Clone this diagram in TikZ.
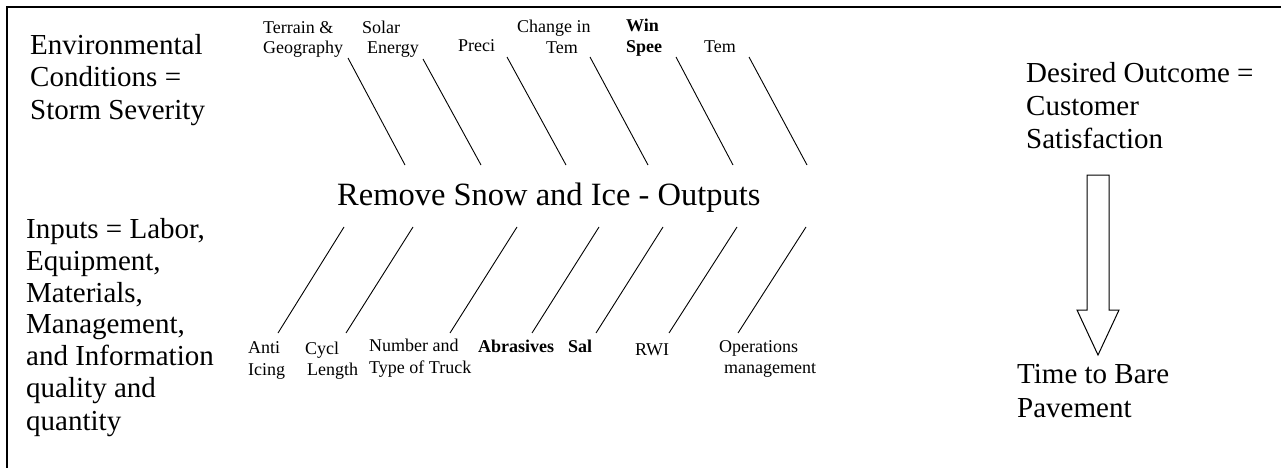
\documentclass[tikz,border=0pt]{standalone}
\usepackage{fontspec}
\setmainfont{Liberation Serif}
\begin{document}
\begin{tikzpicture}[x=1pt,y=-1pt,
  big/.style={anchor=base west, inner sep=0pt, font=\fontsize{29}{32}\selectfont},
  title/.style={anchor=base west, inner sep=0pt, font=\fontsize{32.5}{36}\selectfont},
  small/.style={anchor=base west, inner sep=0pt, font=\fontsize{18}{20}\selectfont},
  smallb/.style={anchor=base west, inner sep=0pt, font=\fontsize{18}{20}\selectfont\bfseries},
  bone/.style={line width=0.9pt},
  frame/.style={line width=2pt},
  outarrow/.style={line width=1pt, fill=white}]
\useasboundingbox (0,0) rectangle (1281,468);
% frame
\coordinate (fbl) at (7,468);
\coordinate (ftl) at (7,7);
\coordinate (ftr) at (1281,7);
\draw[frame] (fbl) -- (ftl) -- (ftr);
% left texts
\node[big] (env1) at (30,55) {Environmental};
\node[big] (env2) at (30,87) {Conditions =};
\node[big] (env3) at (30,120) {Storm Severity};
\node[big] (inp1) at (26,238) {Inputs = Labor,};
\node[big] (inp2) at (26,270) {Equipment,};
\node[big] (inp3) at (26,302) {Materials,};
\node[big] (inp4) at (26,333) {Management,};
\node[big] (inp5) at (26,365) {and Information};
\node[big] (inp6) at (26,397) {quality and};
\node[big] (inp7) at (26,430) {quantity};
% right texts
\node[big] (des1) at (1026,83) {Desired Outcome =};
\node[big] (des2) at (1026,116) {Customer};
\node[big] (des3) at (1026,148) {Satisfaction};
\node[big] (tim1) at (1017,383) {Time to Bare};
\node[big] (tim2) at (1017,417) {Pavement};
% block arrow
\draw[outarrow] (1087,175) -- (1109,175) -- (1109,310) -- (1119,310) -- (1098,355) -- (1077,310) -- (1087,310) -- cycle;
% title
\node[title] (main) at (337,205) {Remove Snow and Ice - Outputs};
% top labels
\node[small] (ter1) at (263,34) {Terrain \&};
\node[small] (ter2) at (263,54) {Geography};
\node[small] (sol1) at (362,34) {Solar};
\node[small] (sol2) at (367,54) {Energy};
\node[small] (pre) at (458,52) {Preci};
\node[small] (chg1) at (517,33) {Change in};
\node[small] (chg2) at (546,54) {Tem};
\node[smallb] (win1) at (626,32) {Win};
\node[smallb] (win2) at (626,53) {Spee};
\node[small] (tem) at (704,53) {Tem};
% bottom labels
\node[small] (ant1) at (248,353) {Anti};
\node[small] (ant2) at (248,375) {Icing};
\node[small] (cyc1) at (305,354) {Cycl};
\node[small] (cyc2) at (307,375) {Length};
\node[small] (num1) at (369,351) {Number and};
\node[small] (num2) at (369,373) {Type of Truck};
\node[smallb] (abr) at (478,352) {Abrasives};
\node[smallb] (sal) at (568,352) {Sal};
\node[small] (rwi) at (635,355) {RWI};
\node[small] (ope1) at (719,352) {Operations};
\node[small] (ope2) at (724,373) {management};
% top bones
\coordinate (t1a) at (348,58);  \coordinate (t1b) at (405,165);
\coordinate (t2a) at (423,59);  \coordinate (t2b) at (481,165);
\coordinate (t3a) at (507,57);  \coordinate (t3b) at (566,165);
\coordinate (t4a) at (590,57);  \coordinate (t4b) at (648,165);
\coordinate (t5a) at (676,57);  \coordinate (t5b) at (733,165);
\coordinate (t6a) at (749,57);  \coordinate (t6b) at (807,165);
\draw[bone] (t1a) -- (t1b);
\draw[bone] (t2a) -- (t2b);
\draw[bone] (t3a) -- (t3b);
\draw[bone] (t4a) -- (t4b);
\draw[bone] (t5a) -- (t5b);
\draw[bone] (t6a) -- (t6b);
% bottom bones
\coordinate (b1a) at (278,333); \coordinate (b1b) at (344,227);
\coordinate (b2a) at (346,333); \coordinate (b2b) at (413,227);
\coordinate (b3a) at (450,333); \coordinate (b3b) at (517,227);
\coordinate (b4a) at (532,333); \coordinate (b4b) at (599,227);
\coordinate (b5a) at (596,333); \coordinate (b5b) at (663,227);
\coordinate (b6a) at (669,333); \coordinate (b6b) at (737,227);
\coordinate (b7a) at (738,333); \coordinate (b7b) at (806,227);
\draw[bone] (b1a) -- (b1b);
\draw[bone] (b2a) -- (b2b);
\draw[bone] (b3a) -- (b3b);
\draw[bone] (b4a) -- (b4b);
\draw[bone] (b5a) -- (b5b);
\draw[bone] (b6a) -- (b6b);
\draw[bone] (b7a) -- (b7b);
\end{tikzpicture}
\end{document}
